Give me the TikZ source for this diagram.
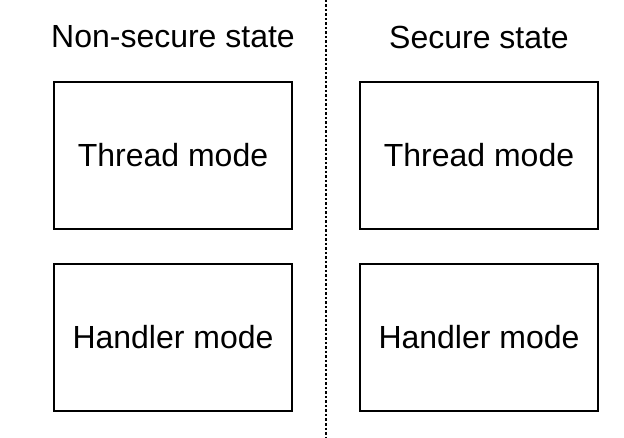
\documentclass[tikz,border=0pt]{standalone}
\usepackage{fontspec}
\setmainfont{Liberation Sans}
\begin{document}
\begin{tikzpicture}[x=1pt,y=-1pt,
  modebox/.style={draw=black,line width=1.5pt,minimum width=238pt,minimum height=147pt,inner sep=0pt,font=\fontsize{32}{36}\selectfont},
  title/.style={font=\fontsize{32}{36}\selectfont,inner sep=0pt},
  divider/.style={line width=2pt,dash pattern=on 2.5pt off 2pt}]
\fill[white] (0,0) rectangle (624,438);
\useasboundingbox (0,0) rectangle (624,438);
\node[title] (tn) at (173,37) {Non-secure state};
\node[title] (ts) at (479,37) {Secure state};
\node[modebox] (nt) at (173,155.5) {Thread mode};
\node[modebox] (nh) at (173,337.5) {Handler mode};
\node[modebox] (st) at (479,155.5) {Thread mode};
\node[modebox] (sh) at (479,337.5) {Handler mode};
\coordinate (dtop) at (326,0);
\coordinate (dbot) at (326,438);
\draw[divider] (dtop) -- (dbot);
\end{tikzpicture}
\end{document}
